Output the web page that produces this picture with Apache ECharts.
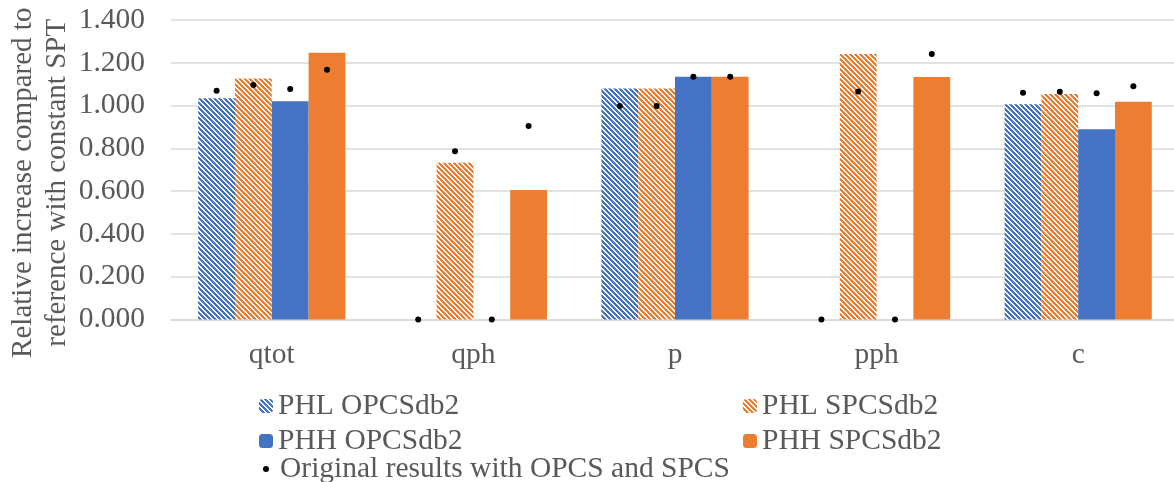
<!DOCTYPE html>
<html>
<head>
<meta charset="utf-8">
<script src="https://cdn.jsdelivr.net/npm/echarts@6/dist/echarts.min.js"></script>
<style>
html,body{margin:0;padding:0;background:#fff;}
#chart{width:1174px;height:482px;}
</style>
</head>
<body>
<div id="chart"></div>
<script>
// ---- data ----
const categories = ['qtot', 'qph', 'p', 'pph', 'c'];
const phlOPCS = [1.034, 0, 1.080, 0, 1.006];
const phlSPCS = [1.127, 0.733, 1.080, 1.241, 1.054];
const phhOPCS = [1.020, 0, 1.135, 0, 0.889];
const phhSPCS = [1.247, 0.605, 1.135, 1.133, 1.018];
// original results (dots), one per bar
const origPhlOPCS = [1.069, 0, 0.998, 0, 1.060];
const origPhlSPCS = [1.096, 0.787, 0.998, 1.066, 1.065];
const origPhhOPCS = [1.077, 0, 1.135, 0, 1.058];
const origPhhSPCS = [1.167, 0.904, 1.135, 1.241, 1.090];
const yTicks = [0, 0.2, 0.4, 0.6, 0.8, 1.0, 1.2, 1.4];

const names = ['PHL OPCSdb2', 'PHL SPCSdb2', 'PHH OPCSdb2', 'PHH SPCSdb2'];
const dotName = 'Original results with OPCS and SPCS';
const BLUE = '#4472C4', ORANGE = '#ED7D31';
const FONT = '"Liberation Serif", "Times New Roman", serif';
const TXT = '#595959';
const CAT_GAP = 0.27;

function hatch(color) {
  const c = document.createElement('canvas');
  c.width = 10; c.height = 10;
  const ctx = c.getContext('2d');
  ctx.fillStyle = '#ffffff';
  ctx.fillRect(0, 0, 10, 10);
  ctx.fillStyle = color;
  for (let y = 0; y < 10; y++) {
    for (let x = 0; x < 10; x++) {
      if ((((x - y) % 5) + 5) % 5 < 3) ctx.fillRect(x, y, 1, 1);
    }
  }
  return { image: c, repeat: 'repeat' };
}

const dotArrays = [origPhlOPCS, origPhlSPCS, origPhhOPCS, origPhhSPCS];
const dotData = [];
dotArrays.forEach((arr, j) => arr.forEach((v, i) => dotData.push([i, v, j])));

const LFS = 29.5;
const chart = echarts.init(document.getElementById('chart'));
chart.setOption({
  animation: false,
  backgroundColor: '#ffffff',
  textStyle: { fontFamily: FONT },
  grid: { left: 171, right: -5, top: 20, bottom: 162.5, containLabel: false, outerBoundsMode: 'none' },
  legend: [
    {
      data: [names[0], names[2]], orient: 'vertical', left: 259, top: 391, padding: 0,
      itemWidth: 14, itemHeight: 14, itemGap: 5,
      textStyle: { fontFamily: FONT, fontSize: LFS, color: TXT, lineHeight: 26 }
    },
    {
      data: [names[1], names[3]], orient: 'vertical', left: 743, top: 391, padding: 0,
      itemWidth: 14, itemHeight: 14, itemGap: 5,
      textStyle: { fontFamily: FONT, fontSize: LFS, color: TXT, lineHeight: 26 }
    },
    {
      data: [{ name: dotName, icon: 'circle' }], orient: 'vertical', left: 263, top: 454, padding: 0,
      itemWidth: 6, itemHeight: 6,
      textStyle: { fontFamily: FONT, fontSize: LFS, color: TXT, lineHeight: 26, padding: [0, 0, 0, 6] }
    }
  ],
  xAxis: {
    type: 'category', data: categories,
    axisLine: { lineStyle: { color: '#D9D9D9', width: 1.5 } },
    axisTick: { show: false },
    axisLabel: { fontFamily: FONT, fontSize: 29.5, color: TXT, margin: 21 }
  },
  yAxis: {
    type: 'value', min: 0, max: 1.4, interval: 0.2,
    axisLine: { show: false }, axisTick: { show: false },
    axisLabel: { fontFamily: FONT, fontSize: 29.5, color: TXT, margin: 26,
      formatter: v => v.toFixed(3) },
    splitLine: { lineStyle: { color: '#D9D9D9', width: 1.5 } },
    name: 'Relative increase compared to\nreference with constant SPT',
    nameLocation: 'middle', nameRotate: 90, nameGap: 97, nameMoveOverlap: false,
    nameTextStyle: { fontFamily: FONT, fontSize: 29, color: TXT, lineHeight: 34, padding: [0, 26, 0, 0] }
  },
  series: [
    { name: names[0], type: 'bar', data: phlOPCS, barGap: '0%', barCategoryGap: (CAT_GAP * 100) + '%',
      itemStyle: { color: hatch(BLUE) } },
    { name: names[1], type: 'bar', data: phlSPCS, barGap: '0%', barCategoryGap: (CAT_GAP * 100) + '%',
      itemStyle: { color: hatch(ORANGE) } },
    { name: names[2], type: 'bar', data: phhOPCS, barGap: '0%', barCategoryGap: (CAT_GAP * 100) + '%',
      itemStyle: { color: BLUE } },
    { name: names[3], type: 'bar', data: phhSPCS, barGap: '0%', barCategoryGap: (CAT_GAP * 100) + '%',
      itemStyle: { color: ORANGE } },
    { name: dotName, type: 'custom', data: dotData, z: 10,
      itemStyle: { color: '#000000' },
      renderItem: function (params, api) {
        const pt = api.coord([api.value(0), api.value(1)]);
        const band = api.size([1, 0])[0];
        const bw = band * (1 - CAT_GAP) / 4;
        const j = api.value(2);
        return { type: 'circle', shape: { cx: pt[0] + (j - 1.5) * bw, cy: pt[1], r: 3 },
          style: { fill: '#000000' } };
      }
    }
  ]
});
</script>
</body>
</html>
